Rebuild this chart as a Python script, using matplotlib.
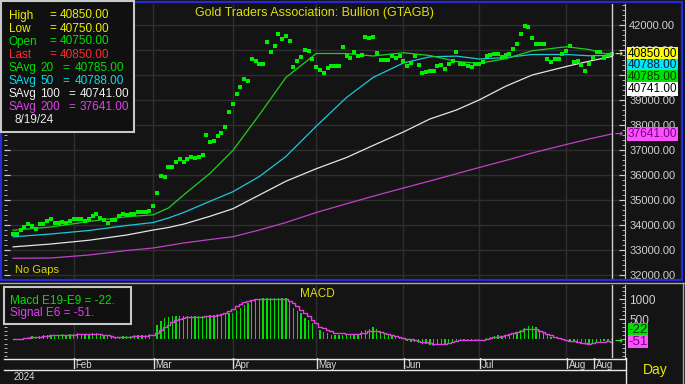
import numpy as np
import pandas as pd
import matplotlib.pyplot as plt
from matplotlib.patches import Rectangle
from matplotlib.ticker import MultipleLocator, FormatStrFormatter

plt.rcParams['font.family'] = ['Liberation Sans', 'DejaVu Sans']

# daily closes, 2024-01-10 .. 2024-08-19 (business days)
close = ([33660, 33660, 33790, 33930, 34060, 33960, 33860, 34060, 34060, 34170,
          34260, 34080, 34080, 34140, 34080, 34170, 34240, 34260, 34260, 34170,
          34260, 34370, 34460, 34300, 34220, 34080, 34200, 34220, 34370, 34460,
          34410, 34460, 34460, 34530, 34540, 34540, 34560]
         + [34770, 35270, 35980, 35920, 36320, 36320, 36530, 36630, 36530, 36630,
            36730, 36670, 36730, 36820, 37620, 37330, 37380, 37570, 37680, 37930,
            38530, 38830, 39230, 39520, 39830, 39770, 40640, 40570, 40430, 40430,
            41330, 40930, 41170, 41630, 41430, 41570, 41370, 40330, 40570, 40730,
            41020, 40970, 40640, 40330, 40220, 40070, 40270, 40380, 40380, 40380]
         + [41130, 40760, 40700, 40930, 40770, 40820, 41530, 41470, 41530, 40900,
            40620, 40620, 40620, 40770, 40690, 40770, 40570, 40370, 40470, 40760,
            40420, 40070, 40130, 40170, 40170, 40380, 40420, 40260, 40430]
         + [40570, 40920, 40460, 40460, 40370, 40330, 40460, 40460, 40530, 40770,
            40820, 40860, 40860, 40730, 40820, 40860, 41060, 41260, 41630, 41970,
            41930, 41470, 41260, 41260, 41260, 40660, 40530, 40660, 40660, 40840,
            40970, 41170, 40530, 40570, 40420, 40170, 40460, 40700, 40930, 40930,
            40700, 40790, 40850])

# moving averages read at some sessions (session number from start)
ma_days = [0, 10, 20, 30, 37, 41, 45, 52, 58, 65, 72, 80, 88, 95, 103, 110, 117, 123, 130, 137, 146, 152, 158]
sma20 = [33790, 33920, 34140, 34330, 34410, 34680, 35200, 36070, 36980, 38410, 39900, 40860, 40860,
         40760, 40890, 40780, 40540, 40470, 40650, 40970, 41130, 41020, 40785]
sma50 = [33527, 33640, 33780, 33980, 34100, 34280, 34500, 34950, 35330, 35940, 36740, 37950, 39100,
         39900, 40480, 40730, 40755, 40640, 40700, 40820, 40820, 40770, 40788]
sma100 = [33125, 33240, 33390, 33600, 33800, 33900, 34035, 34350, 34650, 35200, 35750, 36250, 36700,
          37180, 37720, 38240, 38600, 39000, 39550, 40000, 40340, 40550, 40741]
sma200 = [32670, 32680, 32800, 32980, 33080, 33180, 33280, 33420, 33530, 33800, 34100, 34500, 34850,
          35150, 35480, 35760, 36050, 36300, 36580, 36880, 37220, 37440, 37641]

macd = [0, 10, 20, 40, 60, 80, 70, 80, 100, 110, 120, 120, 120, 130, 120, 130, 140, 150, 140, 130,
        140, 150, 160, 140, 110, 80, 60, 60, 70, 80, 80, 90, 100, 110, 110, 120, 130,
        250, 370, 450, 540, 560, 570, 570, 570, 570, 570, 570, 570, 570, 570, 570, 600, 610, 620,
        630, 640, 650, 660, 720, 780, 850, 900, 950, 980, 1000, 1020, 1020, 1020, 1020, 1020, 1020,
        1020, 920, 770, 700, 650, 540, 470, 400, 320, 230, 190, 150, 100, 110, 110,
        120, 130, 120, 110, 140, 200, 240, 270, 300, 260, 220, 150, 100, 80, 60, 40, 10, -30, -60,
        -60, -80, -100, -120, -140, -150, -140, -120, -100, -80, -60, -40, -20, -30, -40, -40, -30,
        -20, 0, 30, 60, 80, 100, 90, 100, 110, 130, 170, 230, 290, 340, 330, 300, 230, 160, 120,
        60, 20, 10, 20, 0, -30, -60, -90, -110, -130, -140, -110, -80, -50, -40, -30, -22]
signal = [0, 10, 20, 30, 40, 55, 60, 70, 80, 95,
          110, 115, 120, 120, 120, 120, 120, 125, 125, 125,
          125, 130, 130, 130, 120, 100, 80, 70, 70, 70,
          70, 70, 75, 80, 85, 90, 100, 112, 160, 230,
          300, 370, 440, 487, 510, 530, 546, 550, 555, 560,
          565, 570, 571, 580, 600, 630, 654, 700, 760, 821,
          870, 920, 960, 985, 1000, 1004, 1004, 1004, 1004, 1004,
          1004, 1004, 990, 950, 900, 821, 740, 660, 571, 480,
          400, 320, 279, 240, 200, 170, 154, 150, 145, 140,
          137, 140, 150, 170, 200, 221, 215, 196, 170, 140,
          110, 87, 60, 35, 10, 4, -10, -29, -50, -70,
          -96, -105, -110, -112, -100, -80, -60, -40, -20, -12,
          -12, -12, -12, -12, -5, 10, 30, 50, 71, 90,
          110, 130, 154, 180, 220, 254, 254, 254, 250, 220,
          180, 137, 100, 60, 30, 4, -10, -29, -40, -60,
          -80, -96, -100, -80, -62, -55, -50, -48, -51]

legend_rows = [("High", "40850.00", "#f0f000"), ("Low", "40750.00", "#f0f000"),
               ("Open", "40750.00", "#00e000"), ("Last", "40850.00", "#ff2a2a")]
ma_rows = [("20", "40785.00", "#00e000"), ("50", "40788.00", "#00e0f0"),
           ("100", "40741.00", "#f0f0f0"), ("200", "37641.00", "#e040f0")]
extra_labels = ["2024-08-12"]

dates = pd.bdate_range(end="2024-08-19", periods=len(close))
x = np.arange(len(close))
month_pos = [i for i in range(1, len(dates)) if dates[i].month != dates[i - 1].month]
month_pos += [dates.get_loc(pd.Timestamp(d)) for d in extra_labels]
month_lab = [dates[i].strftime("%b") for i in month_pos]

W, H = 685, 384
BG = "#141414"
GRID = "#2e2e2e"
fig = plt.figure(figsize=(W / 100, H / 100), dpi=100, facecolor=BG)


def px_axes(x0, y0, x1, y1):
    a = fig.add_axes([x0 / W, 1 - y1 / H, (x1 - x0) / W, (y1 - y0) / H])
    a.set_facecolor(BG)
    return a


XL = (-2.4, 161.5)

# ---- price panel
ax = px_axes(4, 4, 625, 279)
ax.set_xlim(*XL)
ax.set_ylim(31840, 42840)
ax.set_xticks(month_pos[:-1])
ax.set_yticks(range(32000, 42001, 1000))
ax.yaxis.set_minor_locator(MultipleLocator(200))
ax.yaxis.set_major_formatter(FormatStrFormatter("%.2f"))
ax.yaxis.tick_right()
ax.tick_params(axis="y", which="both", direction="in", left=True, right=True,
               colors="#d0d0d0", labelsize=8, pad=3)
ax.tick_params(axis="y", which="major", length=4)
ax.tick_params(axis="y", which="minor", length=2)
ax.tick_params(axis="x", length=0, labelbottom=False)
ax.grid(color=GRID, lw=1)
for s in ["top", "bottom", "left"]:
    ax.spines[s].set_visible(False)
ax.spines["right"].set_color("#c8c8c8")

ax.plot(ma_days, sma200, color="#c040c8", lw=0.9)
ax.plot(ma_days, sma100, color="#e4e4e4", lw=0.9)
ax.plot(ma_days, sma50, color="#1cc8dc", lw=0.9)
ax.plot(ma_days, sma20, color="#22cc22", lw=0.9)
ax.plot(x, close, "s", color="#00ee00", ms=3.0, mew=0)
ax.axvline(x[-1], color="#d0d0d0", lw=1)

ax.text(0.5, 0.968, "Gold Traders Association: Bullion (GTAGB)", transform=ax.transAxes,
        ha="center", va="center", color="#e0e000", fontsize=9)
ax.text(0.017, 0.015, "No Gaps", transform=ax.transAxes, ha="left", va="bottom",
        color="#d8d800", fontsize=8)

# value boxes on the price scale, stacked where they overlap
boxes = [(close[-1], "#ffff00", "#000000"), (sma50[-1], "#00e8f8", "#002040"),
         (sma20[-1], "#00e000", "#003000"), (sma100[-1], "#ffffff", "#000000"),
         (sma200[-1], "#ff50ff", "#700080")]
pix = ax.transData.transform
prev = None
for v, fc, tc in boxes:
    yp = pix((0, v))[1]
    off = 0
    if prev is not None and prev - yp < 11.7:
        off = (prev - 11.7) - yp
    prev = yp + off
    ax.annotate(f"{v:.2f}", xy=(1, v), xycoords=("axes fraction", "data"),
                xytext=(3, off), textcoords="offset pixels", ha="left", va="center",
                fontsize=8.5, color=tc, annotation_clip=False, zorder=6,
                bbox=dict(boxstyle="square,pad=0.06", fc=fc, ec="none"))
for v, c in [(close[-1], "#c8f000"), (sma200[-1], "#e040f0")]:
    ax.text(x[-1] + 1.9, v, "→", color=c, fontsize=7, ha="center", va="center",
            family="DejaVu Sans", fontweight="bold")

# ---- MACD panel
am = px_axes(4, 285, 625, 358)
am.set_xlim(*XL)
am.set_ylim(-457, 1346)
am.set_xticks(month_pos[:-1])
am.yaxis.tick_right()
am.set_yticks([500, 1000])
am.yaxis.set_minor_locator(MultipleLocator(100))
am.tick_params(axis="y", which="both", direction="in", left=True, right=True,
               colors="#d0d0d0", labelsize=8.5, pad=3)
am.tick_params(axis="y", which="major", length=4)
am.tick_params(axis="y", which="minor", length=2)
am.tick_params(axis="x", length=0, labelbottom=False)
am.grid(axis="x", color=GRID, lw=1)
for s in ["top", "bottom", "left"]:
    am.spines[s].set_visible(False)
am.spines["right"].set_color("#c8c8c8")
am.bar(x, macd, width=0.35, color="#00e000")
am.plot(x, signal, color="#e040e0", lw=1, drawstyle="steps-mid")
am.axvline(x[-1], color="#d0d0d0", lw=1)
am.text(0.505, 0.87, "MACD", transform=am.transAxes, ha="center", va="center",
        color="#e0e000", fontsize=8.5)
am.text(x[-1] + 1.9, signal[-1], "→", color="#40e040", fontsize=7, ha="center",
        va="center", family="DejaVu Sans", fontweight="bold")
am.annotate(f"{macd[-1]}", xy=(1, signal[-1]), xycoords=("axes fraction", "data"),
            xytext=(3, 12), textcoords="offset pixels", ha="left", va="center", fontsize=9.5,
            color="#003000", annotation_clip=False, zorder=6,
            bbox=dict(boxstyle="square,pad=0.02", fc="#00e000", ec="none"))
am.annotate(f"{signal[-1]}", xy=(1, signal[-1]), xycoords=("axes fraction", "data"),
            xytext=(3, 0), textcoords="offset pixels", ha="left", va="center", fontsize=9.5,
            color="#700080", annotation_clip=False, zorder=6,
            bbox=dict(boxstyle="square,pad=0.02", fc="#ff50ff", ec="none"))

# ---- date strip
ad = px_axes(4, 358, 626, 369)
ad.set_xlim(*XL)
ad.set_ylim(0, 1)
ad.axis("off")
for p, lab in zip(month_pos, month_lab):
    ad.axvline(p, color="#e0e0e0", lw=1)
    ad.text(p + 0.5, 0.38, lab, color="#d8d8d8", fontsize=7, ha="left", va="center")

# ---- overlay: frames, legends
ov = fig.add_axes([0, 0, 1, 1])
ov.set_xlim(0, W)
ov.set_ylim(H, 0)
ov.axis("off")
ov.set_zorder(10)
ov.add_patch(Rectangle((1.5, 1.5), 681, 278, fill=False, ec="#2828d8", lw=1.6))
ov.plot([0, W], [283, 283], color="#a8a8a8", lw=1)
ov.plot([4, 626], [358.5, 358.5], color="#e8e8e8", lw=1)
ov.plot([4, 626], [369.5, 369.5], color="#e8e8e8", lw=1)
ov.plot([626.5, 626.5], [358, H], color="#e8e8e8", lw=1)
ov.plot([683.5, 683.5], [283, H], color="#a8a8a8", lw=1)
ov.text(14, 377, "2024", color="#d8d8d8", fontsize=7, ha="left", va="center")
ov.text(655, 370, "Day", color="#e8e800", fontsize=10, ha="center", va="center")

ov.add_patch(Rectangle((1, 1), 133, 131, fc="#101010", ec="#c8c8c8", lw=1.5))
for k, (lab, val, c) in enumerate(legend_rows):
    yy = 15.5 + k * 13
    ov.text(9, yy, lab, color=c, fontsize=8.5, va="center")
    ov.text(49, yy, "=", color=c, fontsize=8.5, va="center")
    ov.text(60, yy, val, color=c, fontsize=8.5, va="center")
for k, (n, val, c) in enumerate(ma_rows):
    yy = 68 + k * 13
    wide = len(n) > 2
    ov.text(9, yy, "SAvg", color=c, fontsize=8.5, va="center")
    ov.text(40, yy, n, color=c, fontsize=8.5, va="center")
    ov.text(68 if wide else 62, yy, "=", color=c, fontsize=8.5, va="center")
    ov.text(80 if wide else 75, yy, val, color=c, fontsize=8.5, va="center")
ov.text(15, 120, dates[-1].strftime("%-m/%-d/%y"), color="#e8e8e8", fontsize=8.5, va="center")

ov.add_patch(Rectangle((4, 287), 127, 37, fc="#101010", ec="#c8c8c8", lw=1.5))
ov.text(10, 300.5, f"Macd E19-E9 = {macd[-1]}.", color="#00e000", fontsize=8.5, va="center")
ov.text(10, 313, f"Signal E6 = {signal[-1]}.", color="#e040f0", fontsize=8.5, va="center")

fig.savefig("out.png", dpi=100, facecolor=BG)
